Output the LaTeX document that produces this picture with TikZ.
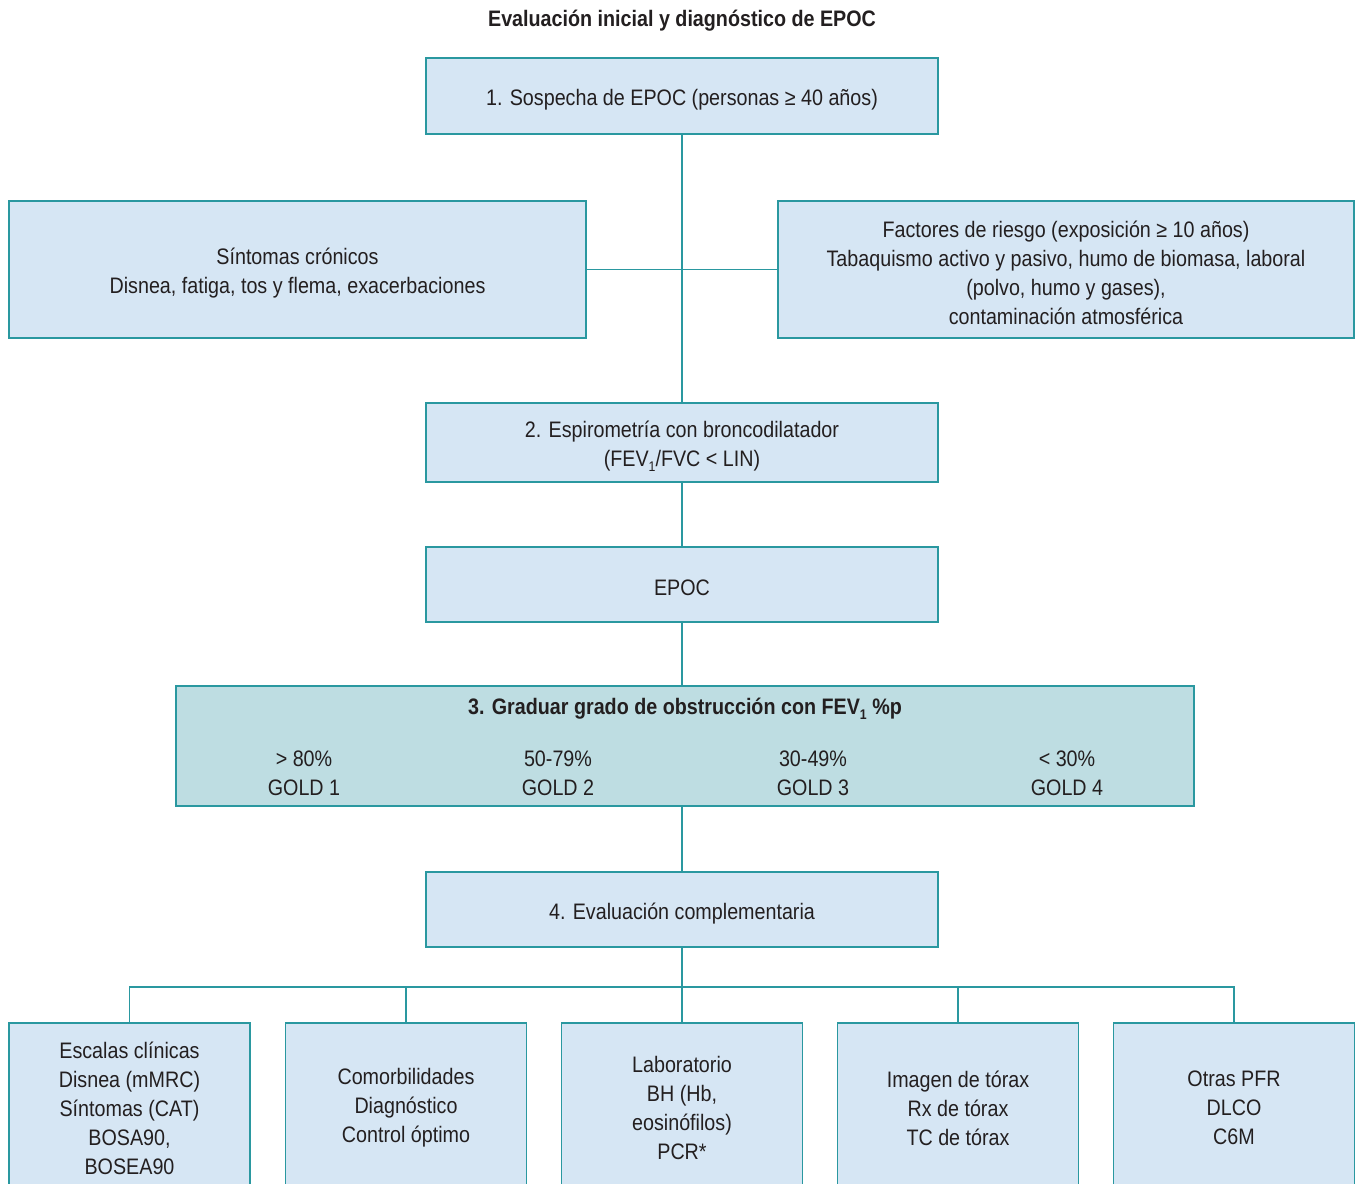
\documentclass[tikz,border=0pt]{standalone}
\usepackage{fontspec}
\setmainfont{Liberation Sans}[FakeStretch=0.88]
\definecolor{edge}{HTML}{2A98A0}
\definecolor{fillb}{HTML}{D6E6F4}
\definecolor{fillg}{HTML}{BEDDE2}
\definecolor{txt}{HTML}{231F20}
\newcommand{\lowone}{\raisebox{-0.4ex}{\fontsize{7}{7}\selectfont 1}}
\begin{document}
\begin{tikzpicture}[x=0.5pt,y=-0.5pt,
  box/.style={draw=edge, fill=fillb, line width=0.75pt, inner sep=0pt},
  gbox/.style={box, fill=fillg},
  lbl/.style={inner sep=0pt, align=center, font=\fontsize{11.2}{14.5}\selectfont, text=txt},
  tx/.style={lbl, yshift=-1.8pt},
  conn/.style={draw=edge, line width=0.75pt}]
\path[use as bounding box] (0,0) rectangle (1357,1184);
\clip (0,0) rectangle (1357,1184);
\fill[white] (0,0) rectangle (1357,1184);

\node[lbl, font=\bfseries\fontsize{11.2}{14.5}\selectfont] (title) at (682,21) {Evaluación inicial y diagnóstico de EPOC};

\node[box, minimum width=256pt, minimum height=38pt] (b1) at (682,96) {};
\node[tx] (b1t) at (b1) {1. Sospecha de EPOC (personas ≥ 40 años)};
\node[box, minimum width=288.5pt, minimum height=68.5pt] (left) at (297.5,269.5) {};
\node[tx] (leftt) at (left) {Síntomas crónicos\\Disnea, fatiga, tos y flema, exacerbaciones};
\node[box, minimum width=288pt, minimum height=68.5pt] (right) at (1066,269.5) {};
\node[tx] (rightt) at (right) {Factores de riesgo (exposición ≥ 10 años)\\Tabaquismo activo y pasivo, humo de biomasa, laboral\\(polvo, humo y gases),\\contaminación atmosférica};
\node[box, minimum width=256pt, minimum height=39.5pt] (b2) at (682,442.5) {};
\node[tx] (b2t) at (b2) {2. Espirometría con broncodilatador\\(FEV\lowone/FVC < LIN)};
\node[box, minimum width=256pt, minimum height=37.5pt] (epoc) at (682,584.5) {};
\node[tx] (epoct) at (epoc) {EPOC};
\node[gbox, minimum width=509pt, minimum height=60pt] (gold) at (685,746) {};
\node[lbl, font=\bfseries\fontsize{11.2}{14.5}\selectfont] (gt) at (685,709) {3. Graduar grado de obstrucción con FEV\lowone{} \%p};
\node[lbl] (g1) at (304,773) {> 80\%\\GOLD 1};
\node[lbl] (g2) at (558,773) {50-79\%\\GOLD 2};
\node[lbl] (g3) at (813,773) {30-49\%\\GOLD 3};
\node[lbl] (g4) at (1067,773) {< 30\%\\GOLD 4};
\node[box, minimum width=256pt, minimum height=37.5pt] (b4) at (682,909.5) {};
\node[tx] (b4t) at (b4) {4. Evaluación complementaria};

\foreach \i/\x in {1/129.5,2/406,3/682,4/958,5/1234}{
  \node[box, minimum width=120.5pt, minimum height=113.5pt] (bot\i) at (\x,1136.5) {};
}
\node[lbl] (t1) at (129.5,1108) {Escalas clínicas\\Disnea (mMRC)\\Síntomas (CAT)\\BOSA90,\\BOSEA90};
\node[lbl] (t2) at (406,1108) {Comorbilidades\\Diagnóstico\\Control óptimo};
\node[lbl] (t3) at (682,1108) {Laboratorio\\BH (Hb,\\eosinófilos)\\PCR*};
\node[lbl] (t4) at (958,1108) {Imagen de tórax\\Rx de tórax\\TC de tórax};
\node[lbl] (t5) at (1234,1108) {Otras PFR\\DLCO\\C6M};

\coordinate (bus) at (682,987);
\draw[conn] (b1.south) -- (b2.north);
\draw[conn] (left.east) -- (right.west);
\draw[conn] (b2.south) -- (epoc.north);
\draw[conn] (epoc.south) -- (epoc.south |- gold.north);
\draw[conn] (b4.north |- gold.south) -- (b4.north);
\draw[conn] (b4.south) -- (bus);
\draw[conn] (bot1.north) |- (bus) -| (bot5.north);
\draw[conn] (bot2.north) -- (bot2.north |- bus);
\draw[conn] (bot3.north) -- (bus);
\draw[conn] (bot4.north) -- (bot4.north |- bus);
\end{tikzpicture}
\end{document}
